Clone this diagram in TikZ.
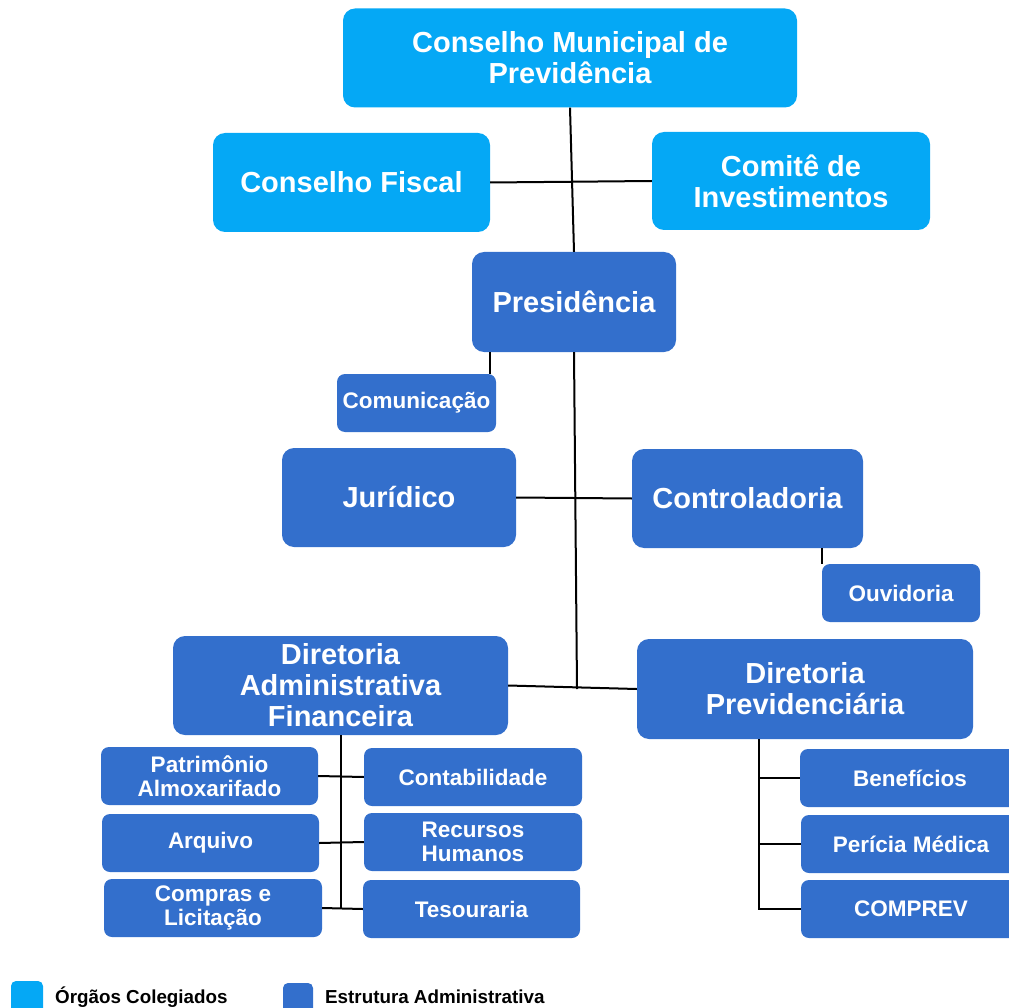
\documentclass[tikz,border=0pt]{standalone}
\usepackage{fontspec}
\setmainfont{Liberation Sans}
\definecolor{colegiado}{RGB}{5,168,245}
\definecolor{admin}{RGB}{51,111,204}

\begin{document}
\begin{tikzpicture}[x=1pt,y=-1pt,
    box/.style={rounded corners=12pt,text=white,inner sep=0pt,align=center,
      font=\fontsize{29}{31}\selectfont\bfseries},
    bigbox/.style={box,fill=admin},
    orgbox/.style={box,fill=colegiado},
    smallbox/.style={box,fill=admin,rounded corners=8pt,
      minimum width=218pt,minimum height=58pt,
      font=\fontsize{22.5}{24}\selectfont\bfseries},
    legtext/.style={anchor=west,inner sep=0pt,font=\fontsize{18.8}{20}\selectfont\bfseries},
    link/.style={line width=2pt}]
    \useasboundingbox (0,0) rectangle (1009,1008);
    % orgaos colegiados
    \path (570,58) node [orgbox,minimum width=454pt,minimum height=99pt] (cmp) {Conselho Municipal de\\Previdência};
    \path (351.5,182.5) node [orgbox,minimum width=277pt,minimum height=99pt] (fiscal) {Conselho Fiscal};
    \path (791,181) node [orgbox,minimum width=278pt,minimum height=98pt] (comite) {Comitê de\\Investimentos};
    % estrutura administrativa
    \path (574,302) node [bigbox,minimum width=204pt,minimum height=100pt] (pres) {Presidência};
    \path (416.5,403) node [smallbox,minimum width=159pt] (com) {Comunicação};
    \path (399,497.5) node [bigbox,minimum width=234pt,minimum height=99pt] (jur) {Jurídico};
    \path (747.5,498.5) node [bigbox,minimum width=231pt,minimum height=99pt] (contr) {Controladoria};
    \path (901,593) node [smallbox,minimum width=158pt] (ouv) {Ouvidoria};
    \path (340.5,685.5) node [bigbox,minimum width=335pt,minimum height=99pt] (daf) {Diretoria\\Administrativa\\Financeira};
    \path (805,689) node [bigbox,minimum width=336pt,minimum height=100pt] (dprev) {Diretoria\\Previdenciária};
    \path (209.5,776) node [smallbox,minimum width=217pt] (pat) {Patrimônio\\Almoxarifado};
    \path (473,777) node [smallbox] (cont) {Contabilidade};
    \path (210.5,843) node [smallbox,minimum width=217pt] (arq) {Arquivo};
    \path (473,842) node [smallbox] (rh) {Recursos\\Humanos};
    \path (213,908) node [smallbox] (comp) {Compras e\\Licitação};
    \path (471.5,909) node [smallbox,minimum width=217pt] (tes) {Tesouraria};
    \path (910,778) node [smallbox,minimum width=220pt] (ben) {Benefícios};
    \path (911,844) node [smallbox,minimum width=220pt] (per) {Perícia Médica};
    \path (911,909) node [smallbox,minimum width=220pt] (comprev) {COMPREV};
    \coordinate (hub) at (577,689);
    % ligacoes
    \draw [link] (cmp.south) -- (pres.north);
    \draw [link] (fiscal.east) -- (comite.west);
    \draw [link] (pres.south -| 490,0) -- (com.north -| 490,0);
    \draw [link] (pres.south) -- (hub);
    \draw [link] (jur.east) -- (contr.west);
    \draw [link] (contr.south -| ouv.west) -- (ouv.north west);
    \draw [link] (daf.east) -- (dprev.west);
    \draw [link] (daf.south) -- (daf.south |- comp.east);
    \draw [link] (pat.east) -- (cont.west);
    \draw [link] (arq.east) -- (rh.west);
    \draw [link] (comp.east) -- (tes.west);
    \draw [link] (dprev.south -| 759,0) -- (comprev.west -| 759,0) -- (comprev.west);
    \draw [link] (ben.west -| 759,0) -- (ben.west);
    \draw [link] (per.west -| 759,0) -- (per.west);
    % legenda
    \path (27,997) node [fill=colegiado,rounded corners=5pt,minimum width=32pt,minimum height=32pt] (legorg) {};
    \path (55,997) node [legtext] (legorgtxt) {Órgãos Colegiados};
    \path (298,999) node [fill=admin,rounded corners=5pt,minimum width=30pt,minimum height=32pt] (legadm) {};
    \path (325,997) node [legtext] (legadmtxt) {Estrutura Administrativa};
\end{tikzpicture}
\end{document}
